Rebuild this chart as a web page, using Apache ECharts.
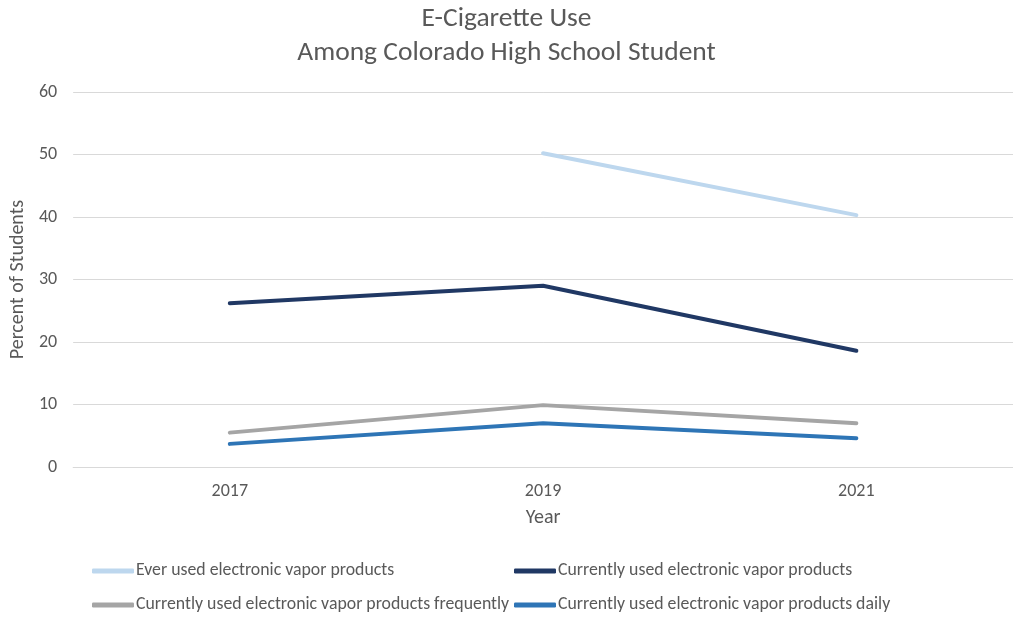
<!DOCTYPE html>
<html>
<head>
<meta charset="utf-8">
<script src="https://cdn.jsdelivr.net/npm/echarts@6/dist/echarts.min.js"></script>
<style>
  html, body { margin: 0; padding: 0; background: #fff; }
  #chart { width: 1013px; height: 617px; }
</style>
</head>
<body>
<div id="chart"></div>
<script>
// Survey years and percentages per indicator (null = not asked that year)
const years = ['2017', '2019', '2021'];
const everUsed = [null, 50.2, 40.3];
const currentUse = [26.2, 29.0, 18.6];
const frequentUse = [5.5, 9.9, 7.0];
const dailyUse = [3.7, 7.0, 4.6];
const seriesNames = [
  'Ever used electronic vapor products',
  'Currently used electronic vapor products',
  'Currently used electronic vapor products frequently',
  'Currently used electronic vapor products daily'
];
const colors = ['#BDD7EE', '#203864', '#A5A5A5', '#2E75B6'];

const FONT = 'Carlito, Lato, sans-serif';
const TEXT = '#595959';

const chart = echarts.init(document.getElementById('chart'));

function lineSeries(name, data, color) {
  return {
    name: name,
    type: 'line',
    data: data,
    showSymbol: false,
    symbol: 'none',
    lineStyle: { color: color, width: 4, cap: 'round', join: 'round' },
    itemStyle: { color: color },
    connectNulls: false,
    animation: false
  };
}

// One legend block per entry, laid out as a two-column grid
const legendSlots = [
  { left: 92, top: 560 },
  { left: 514, top: 560 },
  { left: 92, top: 594 },
  { left: 514, top: 594 }
];
const legends = seriesNames.map((name, i) => ({
  left: legendSlots[i].left,
  top: legendSlots[i].top,
  data: [name],
  icon: 'roundRect',
  itemWidth: 42,
  itemHeight: 5,
  padding: 0,
  textStyle: {
    color: TEXT, fontSize: 17.8, fontFamily: FONT, lineHeight: 22,
    padding: [0, 0, 0, -3]
  }
}));

chart.setOption({
  backgroundColor: '#ffffff',
  color: colors,
  title: {
    text: 'E-Cigarette Use\nAmong Colorado High School Student',
    left: 'center',
    top: 2,
    padding: 0,
    textStyle: {
      color: TEXT, fontSize: 27.5, fontWeight: 'normal', fontFamily: FONT, lineHeight: 34
    }
  },
  legend: legends,
  grid: { left: 70, right: -3, top: 92, bottom: 150 },
  xAxis: {
    type: 'category',
    data: years,
    boundaryGap: true,
    name: 'Year',
    nameLocation: 'middle',
    nameGap: 41,
    nameTextStyle: { color: TEXT, fontSize: 20, fontFamily: FONT },
    axisLine: { lineStyle: { color: '#D9D9D9', width: 1 } },
    axisTick: { show: false },
    axisLabel: { color: TEXT, fontSize: 18, fontFamily: FONT, margin: 15 }
  },
  yAxis: {
    type: 'value',
    min: 0,
    max: 60,
    interval: 10,
    name: 'Percent of Students',
    nameLocation: 'middle',
    nameGap: 42,
    nameTextStyle: { color: TEXT, fontSize: 20, fontFamily: FONT },
    axisLine: { show: false },
    axisTick: { show: false },
    axisLabel: { color: TEXT, fontSize: 18, fontFamily: FONT, margin: 16 },
    splitLine: { lineStyle: { color: '#D9D9D9', width: 1 } }
  },
  series: [
    lineSeries(seriesNames[0], everUsed, colors[0]),
    lineSeries(seriesNames[1], currentUse, colors[1]),
    lineSeries(seriesNames[2], frequentUse, colors[2]),
    lineSeries(seriesNames[3], dailyUse, colors[3])
  ]
});
</script>
</body>
</html>
